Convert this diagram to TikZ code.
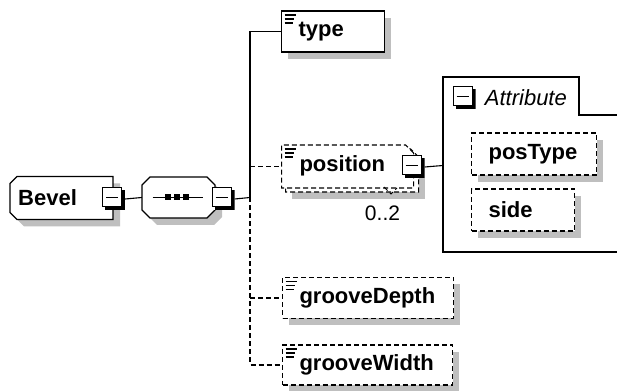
\documentclass[tikz,border=0pt]{standalone}
\usepackage{fontspec}
\setmainfont{Liberation Sans}
\usetikzlibrary{shapes.misc}
\usetikzlibrary{positioning}
\tikzset{
    shadowfill/.style = {fill=black, fill opacity=0.25, draw=none},
    octfill/.style = {fill=white, draw=black, line width=1.1pt},
    elnode/.style = {rectangle, line width=1.1pt, draw=black, fill=white, minimum height=41pt, inner xsep=17pt, align=left, anchor=west, font=\fontsize{22}{26}\selectfont\bfseries, text=black},
    elnoded/.style = {elnode, dash pattern=on 5pt off 3pt},
    simpleicon/.style = {path picture={\foreach \k/\w in {4/11,8/9,12/8} \draw[solid, black, line width=1.6pt] ([shift={(3pt,-\k pt)}]path picture bounding box.north west) -- ++(\w pt,0pt);}},
    rootnode/.style = {rectangle, inner xsep=8pt, inner ysep=0pt, text width=87pt, minimum height=43pt, align=left, anchor=west, font=\fontsize{22}{26}\selectfont\bfseries, text=black},
    seqnode/.style = {rectangle, minimum width=73pt, minimum height=41pt, inner sep=0pt},
    multinode/.style = {elnoded, chamfered rectangle, chamfered rectangle corners={north east}, chamfered rectangle xsep=4pt, chamfered rectangle ysep=4pt, inner xsep=14pt, inner ysep=7pt, text height=16pt, text depth=5pt, minimum height=0pt},
    minusbox/.style = {rectangle, draw=none, fill=white, minimum size=23pt, inner sep=0pt,
        path picture={\fill[black] ([xshift=3pt]path picture bounding box.south west) rectangle ([yshift=-3pt]path picture bounding box.north east);
            \filldraw[fill=white, draw=black, line width=1pt] ([shift={(0.5pt,-0.5pt)}]path picture bounding box.north west) rectangle ([shift={(-3.5pt,3.5pt)}]path picture bounding box.south east);
            \draw[black, line width=1pt] ([shift={(4pt,1.5pt)}]path picture bounding box.west) -- ([shift={(-7pt,1.5pt)}]path picture bounding box.east);}},
    occnode/.style = {inner sep=0pt, font=\fontsize{21}{24}\selectfont, text=black},
    grouplabel/.style = {inner sep=0pt, font=\fontsize{22}{26}\selectfont\itshape, text=black},
    edgen/.style = {-, line width=1.1pt, black},
    edged/.style = {-, line width=1.1pt, black, dash pattern=on 5pt off 3pt}
}

\begin{document}
\begin{tikzpicture}[x=1pt, y=1pt]
\useasboundingbox (0,0) rectangle (617,390);
% shadows
\fill[shadowfill] (17,170.5) -- (24,163.5) -- (120,163.5) -- (120,206.5) -- (113,206.5) -- cycle;
\fill[shadowfill] (157,165) -- (214,165) -- (222,173) -- (222,198) -- (214,206) -- (157,206) -- (149,198) -- (149,173) -- cycle;
\fill[shadowfill] (288,331) rectangle (391,372);
\fill[shadowfill] (292,191) rectangle (425,234);
\fill[shadowfill] (289,64.5) rectangle (460,105.5);
\fill[shadowfill] (289,-2) rectangle (459,38);
\fill[shadowfill] (478,208) rectangle (603,250);
\fill[shadowfill] (478,152) rectangle (581,194);
% root and sequence
\filldraw[octfill] (10,177.5) -- (17,170.5) -- (113,170.5) -- (113,213.5) -- (17,213.5) -- (10,206.5) -- cycle;
\node[rootnode] at (10,192) (bevel) {Bevel};
\node[minusbox] at (113.5,191) (bevelminus) {};
\filldraw[octfill] (150,172) -- (207,172) -- (215,180) -- (215,205) -- (207,213) -- (150,213) -- (142,205) -- (142,180) -- cycle;
\node[seqnode] at (178.5,192.5) (seq) {};
\draw[edgen] ([xshift=-26pt]seq.center) -- ([xshift=24pt]seq.center);
\foreach \d in {-11,-2,7}
    \fill[black] ([xshift=\d pt]seq.center) +(-3pt,-3pt) rectangle +(3pt,3pt);
\node[minusbox] at (223,191) (seqminus) {};
\coordinate (trunk) at (250,192.5);
\draw[edgen] (bevelminus.east) -- (seq.west);
% children
\node[elnode, simpleicon, text width=69pt] at (281,358.5) (type) {type};
\node[multinode, text width=97pt] at (285,219.5) (positionb) {\phantom{position}};
\node[multinode, simpleicon, text width=96pt] at (281,223.5) (position) {position};
\node[minusbox] at (413,223) (posminus) {};
\node[occnode] at (382.5,177) (posocc) {0..2};
\draw[edged, line width=0.8pt] (384,203) -- (391,196) -- (397,202);
\node[elnoded, simpleicon, text width=137pt] at (282,92) (gdepth) {grooveDepth};
\node[elnoded, simpleicon, text width=136pt, minimum height=40pt] at (282,25) (gwidth) {grooveWidth};
\draw[edged] (trunk) |- (gwidth.west);
\draw[edged] (gdepth.west -| trunk) -- (gdepth.west);
\draw[edged] (position.west -| trunk) -- (position.west);
\draw[edgen] (seqminus.east) -- (trunk);
\draw[edgen] (trunk) |- (type.west);
% attribute group
\draw[edgen] (617,275) -| (579,313) -| (443,138) -- (617,138);
\node[minusbox] at (464,292) (attrminus) {};
\node[grouplabel, right=9pt of attrminus] (attrtext) {Attribute};
\coordinate (attrw) at (443,224.5);
\draw[edgen] (posminus.east) -- (attrw);
\node[elnoded, text width=91pt, minimum height=42pt] at (471,236) (postype) {posType};
\node[elnoded, text width=69pt, minimum height=42pt] at (471,180) (side) {side};
\end{tikzpicture}
\end{document}
